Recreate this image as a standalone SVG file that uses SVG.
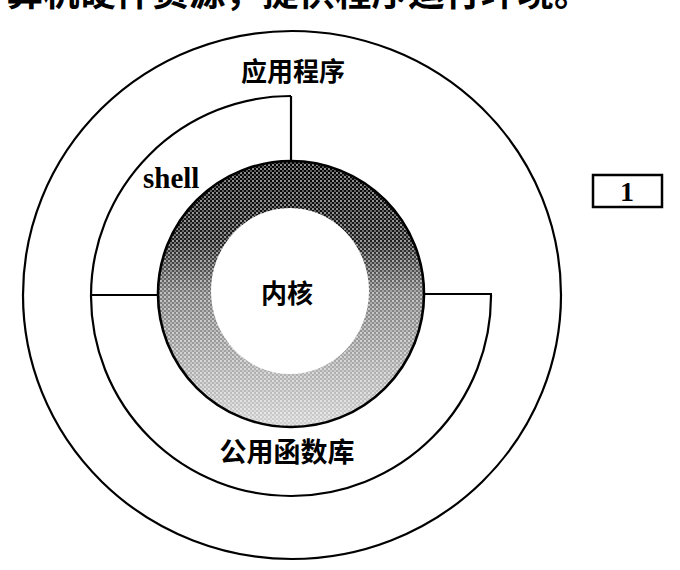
<svg xmlns="http://www.w3.org/2000/svg" width="680" height="570" viewBox="0 0 680 570">
  <style>
    .line { fill: none; stroke: #000; stroke-width: 2.2; }
    .cjk { font-family: "Noto Sans CJK SC", "Noto Sans CJK JP", sans-serif; font-weight: 700; fill: #000; }
    .serif { font-family: "Liberation Serif", "DejaVu Serif", serif; font-weight: bold; fill: #000; }
  </style>
  <defs>
    <linearGradient id="ringGrad" x1="0" y1="0" x2="0" y2="1">
      <stop offset="0" stop-color="#000"/>
      <stop offset="0.3" stop-color="#1e1e1e"/>
      <stop offset="0.5" stop-color="#7a7a7a"/>
      <stop offset="0.8" stop-color="#b0b0b0"/>
      <stop offset="1" stop-color="#d0d0d0"/>
    </linearGradient>
    <pattern id="dither" width="4" height="4" patternUnits="userSpaceOnUse">
      <rect x="0" y="0" width="2" height="2" fill="#fff" opacity="0.55"/>
      <rect x="2" y="2" width="2" height="2" fill="#fff" opacity="0.35"/>
    </pattern>
  </defs>

  <g id="caption">
    <text class="cjk" x="-30" y="6" font-size="36.5">计算机硬件资源，提供程序运行环境。</text>
  </g>

  <g id="outer-ring">
    <ellipse cx="292" cy="295" rx="269" ry="264" class="line"/>
    <text class="cjk" x="293" y="81" font-size="26" text-anchor="middle">应用程序</text>
  </g>

  <g id="kernel">
    <circle cx="291" cy="294" r="133" fill="url(#ringGrad)"/>
    <circle cx="291" cy="294" r="133" fill="url(#dither)"/>
    <ellipse cx="290" cy="291" rx="79" ry="83" fill="#fff"/>
    <circle cx="291" cy="294" r="133" fill="none" stroke="#000" stroke-width="2.6"/>
    <text class="cjk" x="287" y="303" font-size="26" text-anchor="middle">内核</text>
  </g>

  <g id="shell">
    <text class="serif" x="143" y="188" font-size="29">shell</text>
  </g>

  <g id="library">
    <text class="cjk" x="287" y="462" font-size="27" text-anchor="middle">公用函数库</text>
  </g>

  <g id="connectors">
    <path class="line" d="M 291 96 A 200 200 0 1 0 491 295"/>
    <line class="line" x1="291" y1="96" x2="291" y2="162"/>
    <line class="line" x1="90" y1="295" x2="158" y2="295"/>
    <line class="line" x1="424" y1="294" x2="492" y2="294"/>
  </g>

  <g id="label-1">
    <rect x="593" y="175" width="69" height="32" fill="#fff" stroke="#000" stroke-width="2.5"/>
    <text class="serif" x="627" y="201" font-size="28" text-anchor="middle">1</text>
  </g>
</svg>
